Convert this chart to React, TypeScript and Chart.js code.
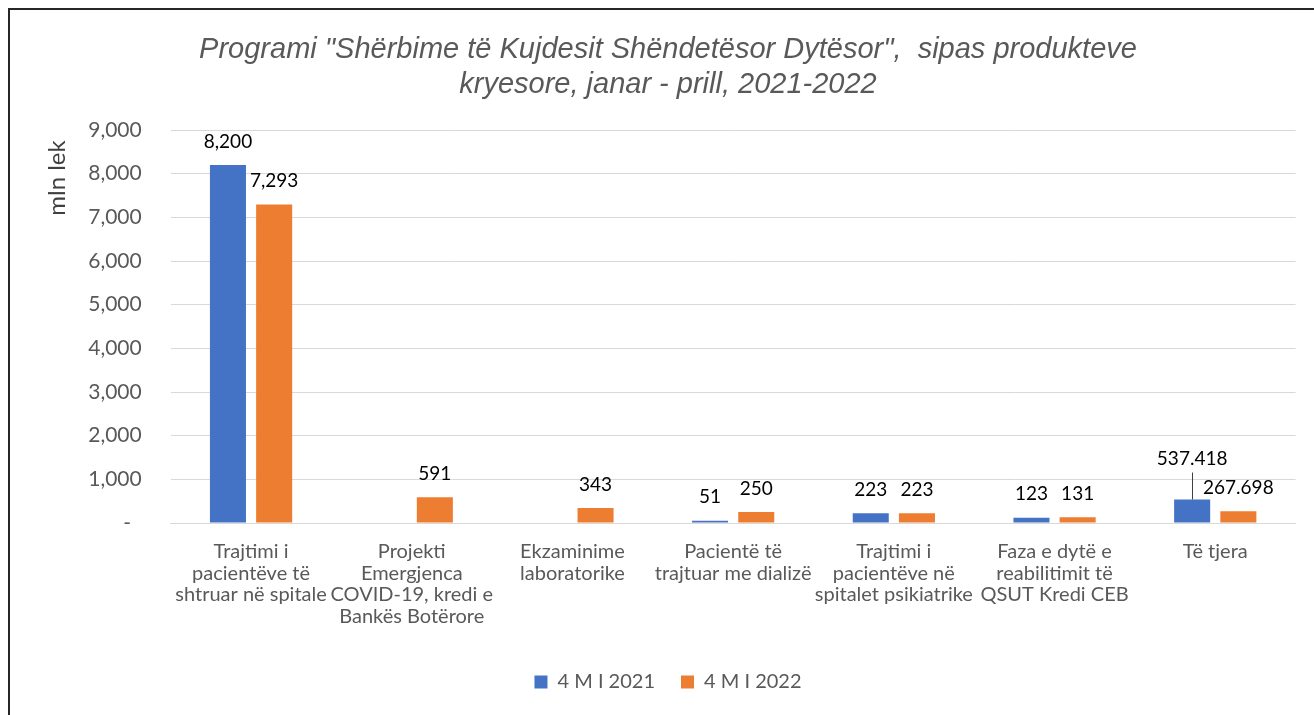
import { useEffect, useRef } from 'react';
import { Chart, registerables } from 'chart.js';

Chart.register(...registerables);

const titleLines = [
  'Programi "Shërbime të Kujdesit Shëndetësor Dytësor",  sipas produkteve',
  'kryesore, janar - prill, 2021-2022',
];

const categories: string[][] = [
  ['Trajtimi i', 'pacientëve të', 'shtruar në spitale'],
  ['Projekti', 'Emergjenca', 'COVID-19, kredi e', 'Bankës Botërore'],
  ['Ekzaminime', 'laboratorike'],
  ['Pacientë të', 'trajtuar me dializë'],
  ['Trajtimi i', 'pacientëve në', 'spitalet psikiatrike'],
  ['Faza e dytë e', 'reabilitimit të', 'QSUT Kredi CEB'],
  ['Të tjera'],
];

const seriesNames = ['4 M I 2021', '4 M I 2022'];
const values2021: (number | null)[] = [8200, null, null, 51, 223, 123, 537.418];
const values2022: (number | null)[] = [7293, 591, 343, 250, 223, 131, 267.698];
const labelDecimals = [0, 0, 0, 0, 0, 0, 3];

const yMin = 0;
const yMax = 9000;
const yStep = 1000;
const yTitle = 'mln lek';

const BLUE = '#4472C4';
const ORANGE = '#ED7D31';

function formatValue(v: number, decimals: number): string {
  if (decimals > 0) return v.toFixed(decimals);
  return Math.round(v).toLocaleString('en-US');
}

const dataLabelPlugin = {
  id: 'dataLabels',
  afterDatasetsDraw(chart: any) {
    const ctx = chart.ctx;
    ctx.save();
    ctx.font = '19px Lato';
    ctx.fillStyle = '#000000';
    ctx.textAlign = 'center';
    ctx.textBaseline = 'middle';
    chart.data.datasets.forEach((ds: any, di: number) => {
      const meta = chart.getDatasetMeta(di);
      meta.data.forEach((bar: any, i: number) => {
        const v = ds.data[i];
        if (v == null) return;
        const text = formatValue(v, labelDecimals[i]);
        const callout = di === 0 && i === 6;
        const lift = callout ? 41 : 23.5;
        const y = bar.y - lift;
        ctx.fillText(text, bar.x, y);
        if (callout) {
          ctx.beginPath();
          ctx.strokeStyle = '#404040';
          ctx.lineWidth = 1;
          ctx.moveTo(Math.round(bar.x) + 0.5, y + 14);
          ctx.lineTo(Math.round(bar.x) + 0.5, bar.y);
          ctx.stroke();
        }
      });
    });
    ctx.restore();
  },
};

const yTitlePlugin = {
  id: 'yTitle',
  afterDraw(chart: any) {
    const ctx = chart.ctx;
    const area = chart.chartArea;
    ctx.save();
    ctx.font = '24px Lato';
    ctx.fillStyle = '#404040';
    ctx.textAlign = 'center';
    ctx.textBaseline = 'middle';
    ctx.translate(area.left - 113, area.top + 48);
    ctx.rotate(-Math.PI / 2);
    ctx.fillText(yTitle, 0, 0);
    ctx.restore();
  },
};

export default function App() {
  const ref = useRef<HTMLCanvasElement>(null);

  useEffect(() => {
    const chart = new Chart(ref.current as HTMLCanvasElement, {
      type: 'bar',
      data: {
        labels: categories,
        datasets: [
          { label: seriesNames[0], data: values2021, backgroundColor: BLUE },
          { label: seriesNames[1], data: values2022, backgroundColor: ORANGE },
        ],
      },
      options: {
        animation: false,
        responsive: true,
        maintainAspectRatio: false,
        datasets: {
          bar: { categoryPercentage: 0.575, barPercentage: 0.78 },
        },
        layout: { padding: { left: 30.4, right: 26.4, top: 0, bottom: 13 } },
        plugins: {
          tooltip: { enabled: false },
          title: {
            display: true,
            text: titleLines,
            color: '#595959',
            font: { family: '"Liberation Sans", Arial', size: 29, style: 'italic', weight: 'normal', lineHeight: 1.2 },
            padding: { top: 22.5, bottom: 27.9 },
          },
          legend: {
            position: 'bottom',
            labels: {
              color: '#595959',
              font: { family: 'Lato', size: 20 },
              boxWidth: 13,
              boxHeight: 13,
              padding: 26,
            },
          },
        },
        scales: {
          x: {
            grid: { display: false },
            border: { display: true, color: '#d9d9d9' },
            ticks: {
              color: '#595959',
              font: { family: 'Lato', size: 20, lineHeight: 1.07 },
              padding: 10.3,
              maxRotation: 0,
              minRotation: 0,
              autoSkip: false,
            },
            afterFit(scale: any) {
              scale.height = 123;
            },
          },
          y: {
            min: yMin,
            max: yMax,
            grid: { color: '#d9d9d9', drawTicks: false },
            border: { display: false },
            ticks: {
              stepSize: yStep,
              color: '#595959',
              font: { family: 'Lato', size: 21 },
              padding: 29,
              callback: (v: any) => (Number(v) === 0 ? '-  ' : Number(v).toLocaleString('en-US')),
            },
            afterFit(scale: any) {
              scale.width = 130.3;
            },
          },
        },
      },
      plugins: [dataLabelPlugin, yTitlePlugin],
    });
    return () => chart.destroy();
  }, []);

  return (
    <div style={{ position: 'fixed', left: 0, top: 0, width: 1314, height: 715, overflow: 'hidden', background: '#fff' }}>
      <div
        style={{
          position: 'absolute',
          left: 8,
          top: 8,
          width: 1314,
          height: 707,
          boxSizing: 'border-box',
          borderLeft: '2px solid #262626',
          borderTop: '2px solid #262626',
          background: '#fff',
        }}
      >
        <div style={{ position: 'relative', width: '100%', height: '100%' }}>
          <canvas ref={ref} />
        </div>
      </div>
    </div>
  );
}
